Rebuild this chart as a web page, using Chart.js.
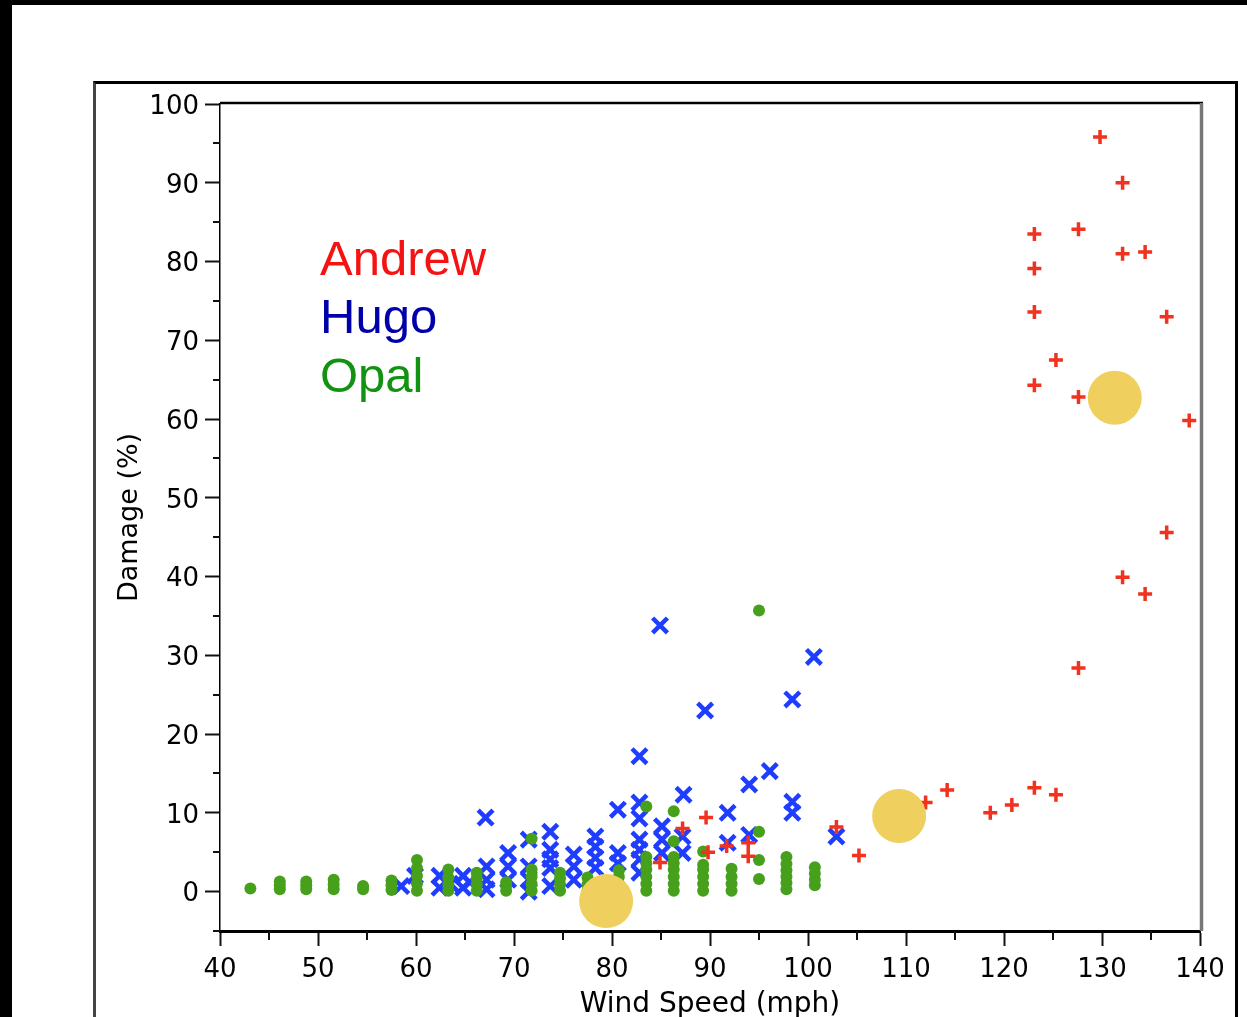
<!DOCTYPE html>
<html>
<head>
<meta charset="utf-8">
<title>Damage vs Wind Speed</title>
<script src="https://cdn.jsdelivr.net/npm/chart.js@4.4.1/dist/chart.umd.min.js"></script>
<style>
  html, body { margin: 0; padding: 0; background: #fff; overflow: hidden; }
  #page { position: relative; width: 1247px; height: 1017px; overflow: hidden; background: #fff; }
  .bar { position: absolute; background: #000; }
  #frame {
    position: absolute; left: 93px; top: 81px; width: 1139px; height: 1000px;
    border-top: 3px solid #000; border-left: 3px solid #444; border-right: 3px solid #000;
  }
  #chart { position: absolute; left: 0; top: 0; }
  .name { position: absolute; left: 320px; font: 49px/49px "Liberation Sans", Arial, sans-serif; white-space: nowrap; }
</style>
</head>
<body>
<div id="page">
  <div class="bar" style="left:0;top:0;width:1247px;height:5px"></div>
  <div class="bar" style="left:0;top:0;width:12px;height:1017px"></div>
  <div id="frame"></div>
  <canvas id="chart" width="1247" height="1022"></canvas>
  <div class="name" style="top:234px;color:#f51212">Andrew</div>
  <div class="name" style="top:292px;color:#0000aa">Hugo</div>
  <div class="name" style="top:351px;color:#119211">Opal</div>
</div>
<script>
// --- Andrew (red +) ---
const andrewSpeed  = [129.8, 132.1, 123.1, 127.6, 123.1, 132.1, 134.4, 123.1, 136.6, 125.3,
                      123.1, 127.6, 138.9, 136.6, 132.1, 134.4, 127.6, 114.2, 112.0, 118.6,
                      120.8, 123.1, 125.3, 105.2, 102.9,  89.6,  87.2,  91.7,  93.9,  93.9,
                       84.9,  89.8];
const andrewDamage = [ 95.8,  90.0,  83.5,  84.1,  79.1,  81.0,  81.2,  73.6,  73.0,  67.5,
                       64.3,  62.8,  59.8,  45.6,  39.9,  37.8,  28.4,  12.9,  11.3,  10.0,
                       11.0,  13.2,  12.3,   4.6,   8.2,   9.4,   8.0,   5.8,   6.2,   4.5,
                        3.7,   5.0];

// --- Hugo (blue x) ---
const hugoSpeed  = [ 84.9, 100.6,  89.5,  98.4,  82.8,  94.0,  96.1,  87.3,  98.4,  98.4,
                     80.6,  91.8,  67.1,  82.8,  82.8,  85.1,  85.1,  85.1,  87.2,  87.2,
                     91.8,  94.0, 102.9,  80.6,  80.6,  82.8,  82.8,  82.8,  82.8,  78.3,
                     78.3,  78.3,  78.3,  76.1,  76.1,  76.1,  73.7,  73.7,  73.7,  73.7,
                     73.7,  71.5,  71.5,  71.5,  71.5,  69.4,  69.4,  69.4,  67.2,  67.2,
                     67.2,  64.8,  64.8,  62.4,  62.4,  59.9,  58.5,  65.5,  63.5];
const hugoDamage = [ 33.8,  29.8,  23.0,  24.4,  17.2,  13.6,  15.3,  12.3,  11.4,  10.0,
                     10.4,  10.0,   9.4,  11.3,   9.3,   8.3,   6.6,   4.9,   7.0,   4.9,
                      6.2,   7.2,   7.0,   4.9,   3.6,   6.6,   5.3,   4.1,   2.4,   7.0,
                      5.7,   4.3,   3.0,   4.7,   3.2,   1.5,   7.6,   5.3,   4.1,   3.0,
                      0.7,   6.6,   3.2,   1.5,   0.0,   4.9,   3.2,   1.5,   3.2,   1.5,
                      0.3,   2.0,   0.5,   2.0,   0.5,   2.0,   0.7,   1.2,   1.0];

// --- Opal (green dots) ---
const opalSpeed  = [ 43.1,
                     46.1, 46.1, 46.1,
                     48.8, 48.8, 48.8,
                     51.6, 51.6, 51.6,
                     54.6, 54.6,
                     57.5, 57.5, 57.5,
                     60.1, 60.1, 60.1, 60.1, 60.1,
                     63.3, 63.3, 63.3, 63.3,
                     66.2, 66.2, 66.2, 66.2,
                     69.2, 69.2, 69.2,
                     71.8, 71.8, 71.8, 71.8, 71.8,
                     74.7, 74.7, 74.7, 74.7,
                     77.5, 77.5, 77.5,
                     80.7, 80.7, 80.7, 80.7,
                     83.5, 83.5, 83.5, 83.5, 83.5, 83.5, 83.5,
                     86.3, 86.3, 86.3, 86.3, 86.3, 86.3, 86.3, 86.3,
                     89.3, 89.3, 89.3, 89.3, 89.3, 89.3,
                     92.2, 92.2, 92.2, 92.2,
                     95.0, 95.0, 95.0, 95.0,
                     97.8, 97.8, 97.8, 97.8, 97.8, 97.8,
                     100.7, 100.7, 100.7, 100.7];
const opalDamage = [ 0.4,
                     0.3, 0.8, 1.3,
                     0.3, 0.8, 1.3,
                     0.3, 0.9, 1.5,
                     0.3, 0.7,
                     0.2, 0.8, 1.4,
                     0.1, 1.0, 2.0, 3.0, 4.0,
                     0.1, 0.9, 1.8, 2.8,
                     0.1, 0.9, 1.7, 2.4,
                     0.1, 0.7, 1.2,
                     0.1, 1.0, 1.9, 2.8, 6.7,
                     0.1, 0.9, 1.7, 2.4,
                     0.1, 0.9, 1.8,
                     0.1, 1.0, 1.9, 2.7,
                     0.1, 1.0, 1.9, 2.8, 3.6, 4.4, 10.8,
                     0.1, 1.0, 1.9, 2.8, 3.6, 4.4, 6.4, 10.2,
                     0.1, 1.0, 1.9, 2.8, 3.4, 5.1,
                     0.1, 1.0, 1.9, 2.9,
                     1.6, 4.0, 7.6, 35.7,
                     0.3, 1.1, 1.9, 2.7, 3.5, 4.4,
                     0.8, 1.5, 2.3, 3.1];

// --- yellow highlight circles ---
const highlightSpeed  = [79.4, 109.3, 131.3];
const highlightDamage = [-1.2,   9.6,  62.7];

// --- axes ---
const xMajor = [40, 50, 60, 70, 80, 90, 100, 110, 120, 130, 140];
const xMinor = [45, 55, 65, 75, 85, 95, 105, 115, 125, 135];
const yMajor = [0, 10, 20, 30, 40, 50, 60, 70, 80, 90, 100];
const yMinor = [-5, 5, 15, 25, 35, 45, 55, 65, 75, 85, 95];

function pts(xs, ys) {
  return xs.map((v, i) => ({ x: v, y: ys[i] }));
}

const tickFont = { family: "'DejaVu Sans', 'Liberation Sans', sans-serif", size: 26 };

// minor ticks + top / right plot border
const plotExtras = {
  id: 'plotExtras',
  afterDraw(chart) {
    const { ctx, chartArea: a, scales: { x, y } } = chart;
    ctx.save();
    ctx.strokeStyle = '#111';
    ctx.lineWidth = 2;
    ctx.beginPath();
    xMinor.forEach(v => {
      const px = Math.round(x.getPixelForValue(v));
      ctx.moveTo(px, a.bottom); ctx.lineTo(px, a.bottom + 9);
    });
    yMinor.forEach(v => {
      const py = Math.round(y.getPixelForValue(v));
      ctx.moveTo(a.left - 7, py); ctx.lineTo(a.left, py);
    });
    ctx.stroke();

    ctx.strokeStyle = '#000';
    ctx.lineWidth = 2.5;
    ctx.beginPath();
    ctx.moveTo(a.left, a.top - 1); ctx.lineTo(a.right + 3, a.top - 1);
    ctx.stroke();

    ctx.strokeStyle = '#777';
    ctx.lineWidth = 3.5;
    ctx.beginPath();
    ctx.moveTo(a.right + 1.5, a.top - 1); ctx.lineTo(a.right + 1.5, a.bottom);
    ctx.stroke();
    ctx.restore();
  }
};

new Chart(document.getElementById('chart').getContext('2d'), {
  type: 'scatter',
  data: {
    datasets: [
      {
        label: 'highlight',
        data: pts(highlightSpeed, highlightDamage),
        pointStyle: 'circle', pointRadius: 27,
        backgroundColor: '#efd05e', borderWidth: 0
      },
      {
        label: 'Andrew',
        data: pts(andrewSpeed, andrewDamage),
        pointStyle: 'cross', pointRadius: 7,
        borderColor: '#f0321e', backgroundColor: '#f0321e', borderWidth: 3.5
      },
      {
        label: 'Opal',
        data: pts(opalSpeed, opalDamage),
        pointStyle: 'circle', pointRadius: 6,
        backgroundColor: '#47a01c', borderWidth: 0
      },
      {
        label: 'Hugo',
        data: pts(hugoSpeed, hugoDamage),
        pointStyle: 'crossRot', pointRadius: 10.5,
        borderColor: '#1f3dff', backgroundColor: '#1f3dff', borderWidth: 4.5
      }
    ]
  },
  options: {
    responsive: false,
    animation: false,
    events: [],
    layout: { padding: { left: 114, top: 104, right: 47, bottom: 0 } },
    plugins: { legend: { display: false }, tooltip: { enabled: false } },
    scales: {
      x: {
        type: 'linear', min: 40, max: 140,
        afterBuildTicks(s) { s.ticks = xMajor.map(v => ({ value: v })); },
        afterFit(s) { s.height = 91; },
        ticks: { font: tickFont, color: '#000', padding: 9, maxRotation: 0, autoSkip: false },
        grid: { drawOnChartArea: false, tickLength: 15, tickWidth: 2, tickColor: '#111' },
        border: { color: '#000', width: 3 },
        title: {
          display: true, text: 'Wind Speed (mph)', color: '#000', padding: 0,
          font: { family: "'DejaVu Sans', sans-serif", size: 28 }
        }
      },
      y: {
        type: 'linear', min: -5, max: 100,
        afterBuildTicks(s) { s.ticks = yMajor.map(v => ({ value: v })); },
        afterFit(s) { s.width = 106; },
        ticks: { font: tickFont, color: '#000', padding: 6, labelOffset: 3, autoSkip: false },
        grid: { drawOnChartArea: false, tickLength: 15, tickWidth: 2, tickColor: '#111' },
        border: { color: '#000', width: 1.5 },
        title: {
          display: true, text: 'Damage (%)', color: '#000', padding: 0,
          font: { family: "'DejaVu Sans', sans-serif", size: 27 }
        }
      }
    }
  },
  plugins: [plotExtras]
});
</script>
</body>
</html>
